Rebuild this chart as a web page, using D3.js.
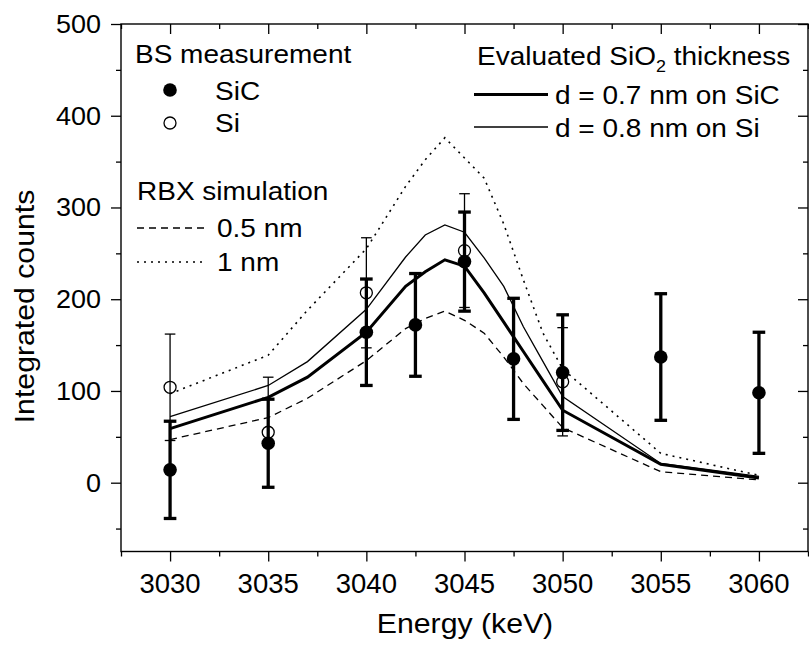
<!DOCTYPE html>
<html>
<head>
<meta charset="utf-8">
<script src="https://cdn.jsdelivr.net/npm/d3@7"></script>
<style>
  html, body { margin: 0; padding: 0; background: #fff; }
  svg { display: block; font-family: "Liberation Sans", Arial, Helvetica, sans-serif; }
</style>
</head>
<body>
<svg id="chart" width="809" height="649"></svg>
<script>
// ---------------- data ----------------
const energyTicks = [3030, 3035, 3040, 3045, 3050, 3055, 3060];
const countTicks = [0, 100, 200, 300, 400, 500];

// BS measurement, SiC (filled circles, thick error bars)
const sicEnergy = [3030, 3035, 3040, 3042.5, 3045, 3047.5, 3050, 3055, 3060];
const sicCounts = [14, 43, 164, 172, 241, 135, 120, 137, 98];
const sicError  = [53, 48, 58, 56, 54, 66, 63, 69, 66];

// BS measurement, Si (open circles, thin error bars)
const siEnergy = [3030, 3035, 3040, 3045, 3050];
const siCounts = [104, 55, 207, 253, 110];
const siError  = [58, 60, 60, 62, 59];

// simulated curves
const simEnergy = [3030, 3035, 3037, 3040, 3042, 3043, 3044, 3045, 3046, 3047, 3048, 3049, 3050, 3055, 3060];
const fitSiC07 = [59, 93, 115, 164, 214, 230, 243, 236, 207, 175, 143, 111, 79, 20, 5];
const fitSi08  = [72, 106, 132, 189, 246, 270, 281, 273, 245, 214, 170, 132, 94, 21, 7];
const rbx05    = [47, 71, 92, 133, 168, 179, 187, 177, 163, 137, 108, 84, 60, 12, 3];
const rbx10    = [97, 139, 188, 255, 323, 352, 376, 354, 332, 282, 221, 163, 124, 32, 8];

// ---------------- layout ----------------
const svg = d3.select("#chart");
const L = 121, R = 808, T = 24, B = 551.5;
const x = d3.scaleLinear().domain([3027.5, 3062.5]).range([L, R]);
const y = d3.scaleLinear().domain([-75, 500]).range([B, T]);

function stext(parent, px, py, str, opts) {
  const o = Object.assign({size: 25, sx: 1, anchor: "start", rotate: 0}, opts || {});
  const g = parent.append("g")
    .attr("transform", `translate(${px},${py}) scale(${o.sx},1)` + (o.rotate ? ` rotate(${o.rotate})` : ""));
  const t = g.append("text")
    .attr("text-anchor", o.anchor)
    .attr("font-size", o.size)
    .attr("fill", "#000");
  if (typeof str === "string") t.text(str);
  else str(t);
  return t;
}

// ---------------- axes ----------------
const minorX = d3.range(3027.5, 3062.6, 2.5);
const minorY = d3.range(-50, 501, 50);

// bottom axis (outward ticks)
const xBottom = d3.axisBottom(x).tickValues(minorX).tickSize(5).tickFormat("");
const gxb = svg.append("g").attr("transform", `translate(0,${B})`).call(xBottom);
gxb.selectAll(".tick line").filter(d => energyTicks.includes(d)).attr("y2", 10);
// top axis (inward ticks)
const xTop = d3.axisTop(x).tickValues(minorX).tickSize(-5).tickFormat("");
const gxt = svg.append("g").attr("transform", `translate(0,${T})`).call(xTop);
gxt.selectAll(".tick line").filter(d => energyTicks.includes(d)).attr("y2", 10);
// left axis (outward)
const yLeft = d3.axisLeft(y).tickValues(minorY).tickSize(5).tickFormat("");
const gyl = svg.append("g").attr("transform", `translate(${L},0)`).call(yLeft);
gyl.selectAll(".tick line").filter(d => countTicks.includes(d)).attr("x2", -10);
// right axis (inward)
const yRight = d3.axisRight(y).tickValues(minorY).tickSize(-5).tickFormat("");
const gyr = svg.append("g").attr("transform", `translate(${R},0)`).call(yRight);
gyr.selectAll(".tick line").filter(d => countTicks.includes(d)).attr("x2", -10);

svg.selectAll(".domain").remove();
svg.selectAll(".tick line").attr("stroke", "#000").attr("stroke-width", 1.3);
svg.append("rect").attr("x", L).attr("y", T).attr("width", R - L).attr("height", B - T)
  .attr("fill", "none").attr("stroke", "#000").attr("stroke-width", 1.4);

// tick labels
energyTicks.forEach(v => stext(svg, x(v), 593, String(v), {size: 27.5, anchor: "middle", sx: 1.0}));
countTicks.forEach(v => stext(svg, 101, y(v) + 9, String(v), {size: 25, anchor: "end", sx: 1.08}));

// axis titles
stext(svg, 465, 633, "Energy (keV)", {size: 28, anchor: "middle", sx: 1.08});
svg.append("g").attr("transform", "translate(34,306.5) rotate(-90) scale(1.08,1)")
  .append("text").attr("text-anchor", "middle").attr("font-size", 28).text("Integrated counts");

// ---------------- curves ----------------
const lineGen = vals => d3.line().x((d, i) => x(simEnergy[i])).y(d => y(d))(vals);
const plot = svg.append("g");
plot.append("path").attr("d", lineGen(rbx10)).attr("fill", "none").attr("stroke", "#000")
  .attr("stroke-width", 1.6).attr("stroke-dasharray", "2,5");
plot.append("path").attr("d", lineGen(rbx05)).attr("fill", "none").attr("stroke", "#000")
  .attr("stroke-width", 1.3).attr("stroke-dasharray", "7,5");
plot.append("path").attr("d", lineGen(fitSi08)).attr("fill", "none").attr("stroke", "#000")
  .attr("stroke-width", 1.3);
plot.append("path").attr("d", lineGen(fitSiC07)).attr("fill", "none").attr("stroke", "#000")
  .attr("stroke-width", 3);

// ---------------- error bars ----------------
function errBars(xs, ys, es, w, cap) {
  const g = plot.append("g").attr("stroke", "#000").attr("stroke-width", w);
  xs.forEach((e, i) => {
    const cx = x(e), y1 = y(ys[i] + es[i]), y2 = y(ys[i] - es[i]);
    g.append("line").attr("x1", cx).attr("x2", cx).attr("y1", y1).attr("y2", y2);
    g.append("line").attr("x1", cx - cap).attr("x2", cx + cap).attr("y1", y1).attr("y2", y1);
    g.append("line").attr("x1", cx - cap).attr("x2", cx + cap).attr("y1", y2).attr("y2", y2);
  });
}
errBars(siEnergy, siCounts, siError, 1.3, 5.3);
errBars(sicEnergy, sicCounts, sicError, 3.3, 6.3);

// ---------------- markers ----------------
plot.selectAll("circle.si").data(siEnergy).enter().append("circle")
  .attr("cx", d => x(d)).attr("cy", (d, i) => y(siCounts[i])).attr("r", 6)
  .attr("fill", "none").attr("stroke", "#000").attr("stroke-width", 1.3);
plot.selectAll("circle.sic").data(sicEnergy).enter().append("circle")
  .attr("cx", d => x(d)).attr("cy", (d, i) => y(sicCounts[i])).attr("r", 6.8)
  .attr("fill", "#000");

// ---------------- legends ----------------
const LS = 1.12, LF = 25;
const leg = svg.append("g");
stext(leg, 135, 63, "BS measurement", {size: LF, sx: LS});
leg.append("circle").attr("cx", 170).attr("cy", 90).attr("r", 6.8).attr("fill", "#000");
stext(leg, 215, 100, "SiC", {size: LF, sx: LS});
leg.append("circle").attr("cx", 170).attr("cy", 123).attr("r", 6).attr("fill", "none")
  .attr("stroke", "#000").attr("stroke-width", 1.3);
stext(leg, 215, 132, "Si", {size: LF, sx: LS});

stext(leg, 137, 200, "RBX simulation", {size: LF, sx: LS});
leg.append("line").attr("x1", 137).attr("x2", 205).attr("y1", 228).attr("y2", 228)
  .attr("stroke", "#000").attr("stroke-width", 1.3).attr("stroke-dasharray", "7,5");
stext(leg, 217, 237, "0.5 nm", {size: LF, sx: LS});
leg.append("line").attr("x1", 137).attr("x2", 205).attr("y1", 262).attr("y2", 262)
  .attr("stroke", "#000").attr("stroke-width", 1.6).attr("stroke-dasharray", "2,5");
stext(leg, 217, 271, "1 nm", {size: LF, sx: LS});

stext(leg, 477, 65, t => {
  t.append("tspan").text("Evaluated SiO");
  t.append("tspan").attr("font-size", 16).attr("dy", 7).text("2");
  t.append("tspan").attr("dy", -7).text(" thickness");
}, {size: LF, sx: LS});
leg.append("line").attr("x1", 474).attr("x2", 548).attr("y1", 94.5).attr("y2", 94.5)
  .attr("stroke", "#000").attr("stroke-width", 3);
stext(leg, 555, 104, "d = 0.7 nm on SiC", {size: LF, sx: LS});
leg.append("line").attr("x1", 474).attr("x2", 548).attr("y1", 127).attr("y2", 127)
  .attr("stroke", "#000").attr("stroke-width", 1.3);
stext(leg, 555, 137, "d = 0.8 nm on Si", {size: LF, sx: LS});
</script>
</body>
</html>
